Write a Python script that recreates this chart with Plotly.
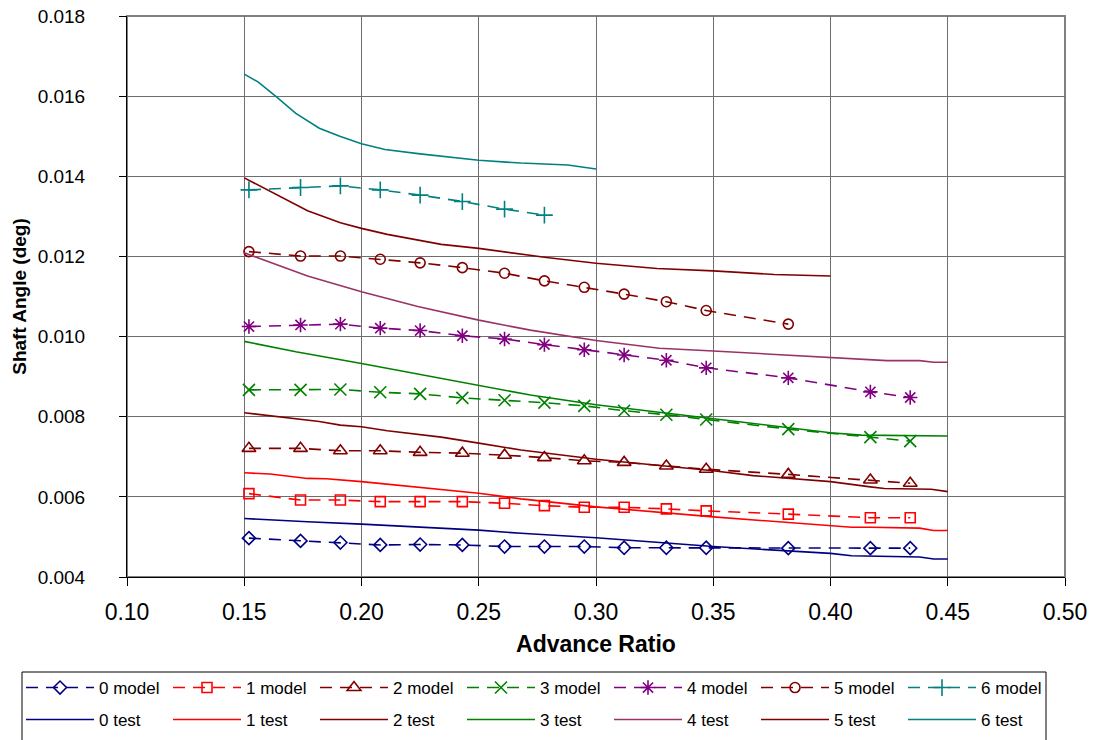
import plotly.graph_objects as go

# ---- data -------------------------------------------------------------
series_names = ["0", "1", "2", "3", "4", "5", "6"]

# model predictions (shared advance-ratio stations)
model_x = [0.152, 0.174, 0.191, 0.208, 0.225, 0.243, 0.261, 0.278,
           0.295, 0.312, 0.330, 0.347, 0.382, 0.417, 0.434]
model_0 = [0.00497, 0.00490, 0.00486, 0.00480, 0.00481, 0.00480, 0.00476, 0.00476,
           0.00476, 0.00473, 0.00473, 0.00473, 0.00472, 0.00472, 0.00472]
model_1 = [0.00608, 0.00592, 0.00592, 0.00588, 0.00588, 0.00588, 0.00584, 0.00578,
           0.00574, 0.00574, 0.00570, 0.00565, 0.00557, 0.00548, 0.00548]
model_2 = [0.00721, 0.00721, 0.00715, 0.00715, 0.00711, 0.00709, 0.00704, 0.00698,
           0.00690, 0.00686, 0.00677, 0.00669, 0.00656, 0.00642, 0.00634]
model_3 = [0.00867, 0.00867, 0.00868, 0.00861, 0.00857, 0.00847, 0.00841, 0.00835,
           0.00827, 0.00815, 0.00805, 0.00793, 0.00769, 0.00749, 0.00739]
model_4 = [0.01025, 0.01029, 0.01031, 0.01021, 0.01015, 0.01002, 0.00994, 0.00980,
           0.00967, 0.00954, 0.00941, 0.00922, 0.00897, 0.00862, 0.00848]
model_5 = [0.01212, 0.01201, 0.01201, 0.01193, 0.01184, 0.01172, 0.01158, 0.01139,
           0.01123, 0.01106, 0.01087, 0.01065, 0.01031]
model_6 = [0.01366, 0.01372, 0.01376, 0.01366, 0.01353, 0.01337, 0.01318, 0.01303]

# test measurements
test_0_x = [0.150, 0.162, 0.177, 0.200, 0.250, 0.268, 0.300, 0.350, 0.400, 0.409,
            0.423, 0.438, 0.444, 0.450]
test_0 = [0.00546, 0.00542, 0.00538, 0.00532, 0.00517, 0.00509, 0.00498, 0.00476,
          0.00459, 0.00453, 0.00451, 0.00450, 0.00445, 0.00445]
test_1_x = [0.150, 0.161, 0.177, 0.185, 0.200, 0.225, 0.250, 0.268, 0.300, 0.350,
            0.367, 0.400, 0.409, 0.417, 0.438, 0.444, 0.450]
test_1 = [0.00660, 0.00657, 0.00646, 0.00645, 0.00638, 0.00624, 0.00609, 0.00595,
          0.00575, 0.00550, 0.00542, 0.00528, 0.00524, 0.00524, 0.00522, 0.00516, 0.00516]
test_2_x = [0.150, 0.172, 0.182, 0.191, 0.200, 0.211, 0.234, 0.250, 0.268, 0.300,
            0.350, 0.367, 0.400, 0.417, 0.423, 0.443, 0.450]
test_2 = [0.00810, 0.00796, 0.00788, 0.00779, 0.00775, 0.00765, 0.00749, 0.00734,
          0.00717, 0.00694, 0.00665, 0.00653, 0.00638, 0.00625, 0.00621, 0.00619, 0.00613]
test_3_x = [0.150, 0.172, 0.200, 0.224, 0.250, 0.272, 0.300, 0.350, 0.376, 0.400,
            0.413, 0.450]
test_3 = [0.00988, 0.00962, 0.00933, 0.00907, 0.00879, 0.00854, 0.00830, 0.00794,
          0.00777, 0.00760, 0.00754, 0.00752]
test_4_x = [0.150, 0.177, 0.200, 0.224, 0.250, 0.272, 0.300, 0.327, 0.350, 0.380,
            0.400, 0.413, 0.424, 0.438, 0.444, 0.450]
test_4 = [0.01209, 0.01151, 0.01112, 0.01075, 0.01041, 0.01016, 0.00990, 0.00971,
          0.00964, 0.00954, 0.00948, 0.00944, 0.00940, 0.00940, 0.00936, 0.00936]
test_5_x = [0.150, 0.177, 0.191, 0.200, 0.211, 0.234, 0.250, 0.278, 0.300, 0.326,
            0.350, 0.376, 0.400]
test_5 = [0.01396, 0.01314, 0.01284, 0.01270, 0.01255, 0.01230, 0.01220, 0.01198,
          0.01183, 0.01170, 0.01164, 0.01155, 0.01151]
test_6_x = [0.150, 0.156, 0.164, 0.172, 0.182, 0.191, 0.200, 0.210, 0.225, 0.250,
            0.268, 0.288, 0.300]
test_6 = [0.01655, 0.01635, 0.01597, 0.01557, 0.01520, 0.01499, 0.01481, 0.01467,
          0.01456, 0.01440, 0.01433, 0.01428, 0.01418]

x_ticks = [0.10, 0.15, 0.20, 0.25, 0.30, 0.35, 0.40, 0.45, 0.50]
y_ticks = [0.004, 0.006, 0.008, 0.010, 0.012, 0.014, 0.016, 0.018]

# ---- styling ----------------------------------------------------------
model_values = [model_0, model_1, model_2, model_3, model_4, model_5, model_6]
test_xs = [test_0_x, test_1_x, test_2_x, test_3_x, test_4_x, test_5_x, test_6_x]
test_values = [test_0, test_1, test_2, test_3, test_4, test_5, test_6]

model_colors = ["#000080", "#FF0000", "#800000", "#008000", "#800080", "#800000", "#008080"]
test_colors = ["#000080", "#FF0000", "#800000", "#008000", "#993366", "#800000", "#008080"]
model_symbols = ["diamond-open", "square-open", "triangle-up-open", "x-thin-open",
                 "asterisk-open", "circle-open", "cross-thin-open"]
model_sizes = [10, 10, 12, 12, 12, 10, 12]

FONT = "Liberation Sans, Arial, sans-serif"
W, H = 1098, 740
L, R, T, B = 127, 33, 16, 163
PW, PH = W - L - R, H - T - B
SYMBOL_W = 68          # legend symbol length
ENTRY_W = 142          # spacing between legend entries


def paper_x(px):
    return (px - L) / PW


def paper_y(py):
    return (H - B - py) / PH


fig = go.Figure()

for name, vals, col, sym, sz in zip(series_names, model_values, model_colors,
                                     model_symbols, model_sizes):
    fig.add_trace(go.Scatter(
        x=model_x[:len(vals)], y=vals, name=f"{name} model", mode="lines+markers",
        line=dict(color=col, width=1.6, dash="12px,8px"),
        marker=dict(symbol=sym, size=sz, color=col, line=dict(color=col, width=1.6)),
        legend="legend",
    ))

for name, xs, vals, col in zip(series_names, test_xs, test_values, test_colors):
    fig.add_trace(go.Scatter(
        x=xs, y=vals, name=f"{name} test", mode="lines",
        line=dict(color=col, width=1.6),
        legend="legend2",
    ))

legend_common = dict(
    orientation="h", xanchor="left", yanchor="middle",
    x=paper_x(21), font=dict(family=FONT, size=17, color="black"),
    bgcolor="rgba(0,0,0,0)", borderwidth=0,
    entrywidth=ENTRY_W - SYMBOL_W - 10, entrywidthmode="pixels", itemwidth=SYMBOL_W,
)

fig.update_layout(
    width=W, height=H,
    margin=dict(l=L, r=R, t=T, b=B, autoexpand=False),
    paper_bgcolor="white", plot_bgcolor="white",
    font=dict(family=FONT, color="black"),
    showlegend=True,
    legend=dict(y=paper_y(688), **legend_common),
    legend2=dict(y=paper_y(720), **legend_common),
    xaxis=dict(
        range=[0.10, 0.50], tickvals=x_ticks, ticktext=[f"{v:.2f}" for v in x_ticks],
        showgrid=True, gridcolor="#6e6e6e", gridwidth=1,
        showline=True, linecolor="black", linewidth=1,
        ticks="outside", ticklen=8, tickcolor="black",
        tickfont=dict(family=FONT, size=23, color="black"), ticklabelstandoff=6,
        zeroline=False, automargin=False,
        title=dict(text="<b>Advance Ratio</b>", font=dict(family=FONT, size=23, color="black"),
                   standoff=12),
    ),
    yaxis=dict(
        range=[0.004, 0.018], tickvals=y_ticks, ticktext=[f"{v:.3f}" for v in y_ticks],
        showgrid=True, gridcolor="#6e6e6e", gridwidth=1,
        showline=True, linecolor="black", linewidth=1,
        ticks="outside", ticklen=7, tickcolor="black",
        tickfont=dict(family=FONT, size=19, color="black"), ticklabelstandoff=30,
        zeroline=False, automargin=False,
        title=dict(text="<b>Shaft Angle (deg)</b>", font=dict(family=FONT, size=19, color="black"),
                   standoff=6),
    ),
    shapes=[
        # plot-area frame
        dict(type="rect", xref="paper", yref="paper", x0=0, x1=1, y0=0, y1=1,
             line=dict(color="#808080", width=2), layer="below"),
        # legend frame
        dict(type="rect", xref="paper", yref="paper",
             x0=paper_x(22), x1=paper_x(1046), y0=paper_y(748), y1=paper_y(672),
             line=dict(color="black", width=1), layer="above"),
    ],
)

fig.write_html("out.html")
